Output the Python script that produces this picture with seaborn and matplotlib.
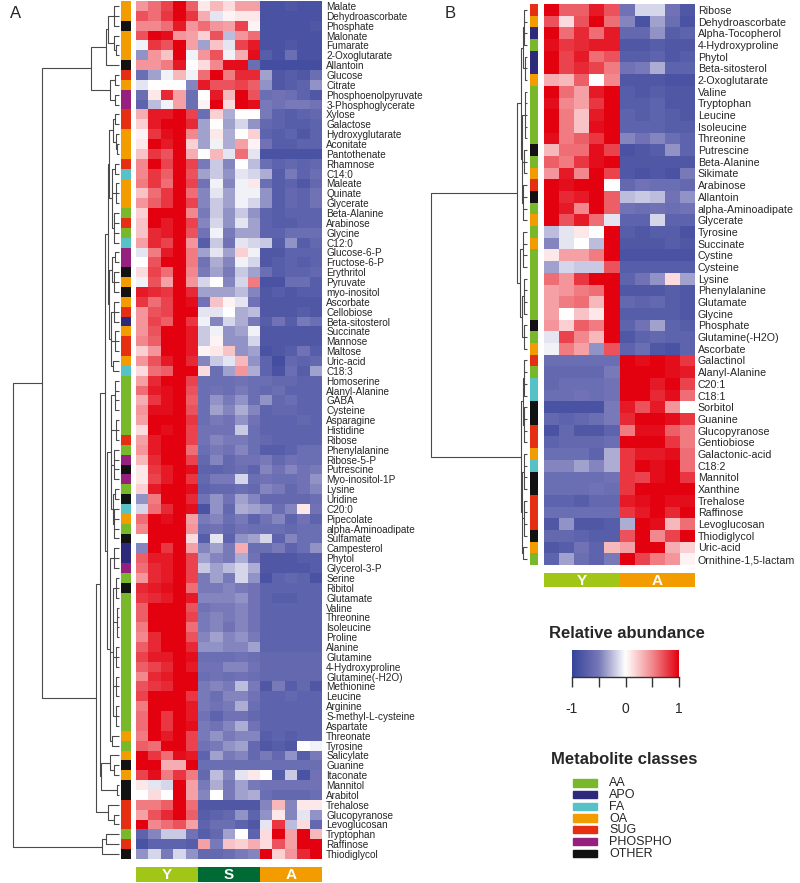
import numpy as np
import pandas as pd
import matplotlib
matplotlib.use("Agg")
import matplotlib.pyplot as plt
import seaborn as sns
from matplotlib.colors import LinearSegmentedColormap, ListedColormap
from matplotlib.patches import Rectangle

# ---- data -------------------------------------------------------------
names_a = ["Malate", "Dehydroascorbate", "Phosphate", "Malonate", "Fumarate", "2-Oxoglutarate",
           "Allantoin", "Glucose", "Citrate", "Phosphoenolpyruvate", "3-Phosphoglycerate", "Xylose",
           "Galactose", "Hydroxyglutarate", "Aconitate", "Pantothenate", "Rhamnose", "C14:0",
           "Maleate", "Quinate", "Glycerate", "Beta-Alanine", "Arabinose", "Glycine", "C12:0",
           "Glucose-6-P", "Fructose-6-P", "Erythritol", "Pyruvate", "myo-inositol", "Ascorbate",
           "Cellobiose", "Beta-sitosterol", "Succinate", "Mannose", "Maltose", "Uric-acid", "C18:3",
           "Homoserine", "Alanyl-Alanine", "GABA", "Cysteine", "Asparagine", "Histidine", "Ribose",
           "Phenylalanine", "Ribose-5-P", "Putrescine", "Myo-inositol-1P", "Lysine", "Uridine",
           "C20:0", "Pipecolate", "alpha-Aminoadipate", "Sulfamate", "Campesterol", "Phytol",
           "Glycerol-3-P", "Serine", "Ribitol", "Glutamate", "Valine", "Threonine", "Isoleucine",
           "Proline", "Alanine", "Glutamine", "4-Hydroxyproline", "Glutamine(-H2O)", "Methionine",
           "Leucine", "Arginine", "S-methyl-L-cysteine", "Aspartate", "Threonate", "Tyrosine",
           "Salicylate", "Guanine", "Itaconate", "Mannitol", "Arabitol", "Trehalose",
           "Glucopyranose", "Levoglucosan", "Tryptophan", "Raffinose", "Thiodiglycol"]

class_a = ["OA", "OA", "OTHER", "OA", "OA", "OA", "OTHER", "SUG", "OA", "PHOSPHO", "PHOSPHO",
           "SUG", "SUG", "OA", "OA", "OA", "SUG", "FA", "OA", "OA", "OA", "AA", "SUG", "AA", "FA",
           "PHOSPHO", "PHOSPHO", "OTHER", "OA", "OTHER", "OA", "SUG", "APO", "OA", "SUG", "SUG",
           "OA", "FA", "AA", "AA", "AA", "AA", "AA", "AA", "SUG", "AA", "PHOSPHO", "OTHER",
           "PHOSPHO", "AA", "OTHER", "FA", "OA", "AA", "OTHER", "APO", "APO", "PHOSPHO", "AA",
           "OTHER", "AA", "AA", "AA", "AA", "AA", "AA", "AA", "AA", "AA", "AA", "AA", "AA", "AA",
           "AA", "OA", "AA", "OA", "OTHER", "OA", "OTHER", "OTHER", "SUG", "SUG", "SUG", "AA",
           "SUG", "OTHER"]

# relative abundance in percent, columns Y1-Y5, S1-S5, A1-A5
vals_a = [
    [45, 60, 75, 100, 65, 10, 30, 15, 40, 40, -85, -85, -80, -85, -85],
    [70, 60, 80, 100, 80, 35, -10, 5, 10, 10, -85, -85, -85, -85, -85],
    [50, 50, 60, 90, 45, 60, 45, 40, 75, 5, -85, -85, -85, -85, -80],
    [70, 100, 95, 45, 40, 20, 70, -25, 45, 60, -85, -85, -85, -85, -85],
    [-5, 80, 70, 100, 40, -35, 25, -10, 75, 90, -85, -85, -80, -85, -85],
    [-40, 45, 25, 100, -5, 45, 70, -5, 35, 95, -75, -85, -60, -85, -85],
    [45, 45, 55, 90, 0, 15, 50, 95, 95, -60, -90, -90, -90, -90, -90],
    [-60, -35, -5, 30, -5, 60, 100, 55, 85, 85, -35, -80, -75, -80, -60],
    [-10, 0, 0, 0, -45, 90, 70, 70, 75, 65, -40, -80, -75, -70, -40],
    [-60, 10, 85, 40, -60, 0, 90, 30, 100, 70, -60, -55, -60, -70, -80],
    [-70, -25, -5, 40, -60, 5, 100, 15, 100, 95, -50, -55, -50, -50, -55],
    [35, 90, 90, 100, 75, -60, 20, -30, 0, 0, -50, -70, -75, -70, -65],
    [20, 90, 100, 100, 85, -35, 0, -35, -15, -40, -65, -70, -75, -75, -70],
    [5, 80, 95, 100, 50, -35, 10, -30, 0, 20, -70, -75, -70, -80, -70],
    [10, 100, 90, 100, 20, -35, -5, -30, 40, 5, -55, -75, -75, -70, -70],
    [25, 80, 70, 100, 35, 0, 30, -10, 60, -10, -85, -85, -85, -85, -85],
    [50, 100, 75, 100, 75, -50, -20, -45, 0, -25, -60, -70, -65, -70, -65],
    [50, 80, 65, 100, 70, -35, -20, -40, -10, -15, -30, -75, -50, -70, -60],
    [55, 80, 60, 100, 75, -55, -5, -45, -5, 10, -60, -75, -70, -80, -65],
    [25, 60, 80, 100, 60, -45, -10, -35, -5, -5, -40, -75, -65, -70, -55],
    [45, 65, 80, 100, 75, -45, -20, -35, -5, -15, -40, -75, -65, -70, -55],
    [20, 100, 100, 100, 50, -50, -20, -40, -20, -40, -70, -75, -70, -70, -70],
    [25, 100, 90, 100, 75, -45, -15, -40, -10, -35, -70, -75, -75, -70, -70],
    [25, 85, 90, 100, 70, -55, -5, -50, -35, -35, -70, -70, -60, -60, -60],
    [40, 85, 75, 100, 45, -75, -20, -55, -10, -15, -20, -75, -40, -75, -65],
    [-10, 55, 90, 100, 55, -35, -10, -35, 20, -5, -80, -80, -70, -70, -70],
    [0, 70, 100, 100, 55, -55, -30, -45, -5, -15, -80, -75, -70, -75, -70],
    [15, 75, 60, 100, 50, -50, -35, -50, -20, -35, -60, -75, -70, -70, -65],
    [-5, 70, 40, 100, 45, -15, 0, -45, -15, 55, -85, -85, -60, -60, -75],
    [90, 85, 80, 100, 85, -35, -35, -35, -25, -45, -80, -75, -80, -75, -75],
    [80, 60, 75, 100, 95, -55, 25, 5, -10, -55, -80, -80, -80, -80, -80],
    [45, 70, 75, 100, 100, -10, -10, 0, -30, -25, -80, -80, -80, -75, -80],
    [45, 75, 65, 100, 80, -5, -45, -15, -30, -50, -75, -55, -75, -50, -60],
    [45, 70, 100, 100, 90, -20, -5, -40, -35, -5, -80, -80, -80, -80, -80],
    [50, 65, 100, 100, 90, -20, 5, -40, -40, -15, -80, -80, -80, -80, -80],
    [20, 45, 100, 100, 90, 5, 10, 25, -40, -35, -85, -80, -75, -55, -75],
    [45, 70, 90, 100, 85, -45, -20, -10, 30, -40, -70, -90, -65, -70, -65],
    [15, 60, 65, 100, 100, 15, -60, -35, 45, -30, -70, -85, -60, -75, -35],
    [40, 85, 100, 100, 75, -60, -60, -60, -55, -60, -60, -65, -65, -70, -70],
    [60, 90, 95, 100, 70, -60, -55, -60, -50, -60, -65, -60, -70, -70, -70],
    [35, 80, 95, 100, 65, -60, -40, -50, -40, -60, -40, -65, -60, -70, -70],
    [45, 95, 95, 100, 70, -60, -35, -45, -30, -45, -70, -65, -65, -70, -70],
    [40, 100, 100, 100, 80, -60, -50, -55, -40, -55, -70, -70, -70, -65, -70],
    [15, 100, 95, 100, 75, -55, -55, -55, -20, -60, -70, -70, -70, -70, -70],
    [40, 90, 100, 100, 75, -55, -45, -50, -50, -60, -65, -70, -70, -70, -70],
    [45, 90, 100, 100, 60, -60, -50, -55, -45, -60, -75, -75, -70, -60, -60],
    [30, 85, 100, 100, 75, -65, -45, -65, -55, -55, -50, -65, -55, -60, -60],
    [10, 80, 90, 100, 95, -70, -70, -65, -60, -70, -45, -55, -45, -55, -50],
    [10, 75, 90, 100, 80, -65, -50, -50, -15, -60, -55, -60, -60, -55, -40],
    [20, 90, 100, 100, 95, -70, -65, -65, -60, -65, -45, -50, -65, -55, -45],
    [-40, 55, 100, 100, 85, -55, -40, -55, -35, -45, -65, -65, -65, -65, -60],
    [-15, 60, 85, 100, 95, -85, -40, -65, -30, -35, -40, -60, -45, 10, -55],
    [60, 100, 95, 100, 40, -50, -45, -60, -50, -70, -55, -45, -70, -55, -70],
    [50, 100, 100, 100, 45, -60, -55, -65, -55, -60, -60, -60, -65, -60, -60],
    [0, 100, 100, 100, 15, -75, -10, -70, -40, -35, -15, -70, -45, -60, -60],
    [-45, 100, 80, 100, 40, -45, -35, -50, 35, -60, -60, -50, -70, -60, -40],
    [65, 90, 90, 100, 75, -35, -45, -50, -30, -55, -80, -80, -80, -75, -75],
    [60, 85, 90, 100, 75, -20, -35, -25, -15, -30, -80, -80, -80, -80, -75],
    [45, 85, 90, 100, 75, -50, -35, -50, -15, -40, -85, -70, -65, -70, -85],
    [85, 90, 95, 100, 60, -50, -50, -45, -50, -55, -70, -70, -70, -70, -70],
    [80, 85, 90, 100, 90, -45, -45, -45, -40, -55, -70, -75, -75, -70, -70],
    [65, 100, 100, 100, 70, -55, -50, -50, -45, -55, -70, -70, -70, -70, -70],
    [65, 100, 100, 100, 75, -50, -45, -50, -45, -55, -70, -70, -70, -70, -70],
    [55, 100, 100, 100, 60, -50, -45, -55, -45, -55, -70, -70, -70, -70, -70],
    [50, 85, 100, 100, 70, -45, -35, -45, -40, -50, -70, -70, -70, -70, -70],
    [65, 85, 100, 100, 85, -40, -40, -45, -45, -35, -70, -70, -70, -70, -70],
    [75, 90, 90, 100, 95, -60, -60, -60, -55, -60, -65, -65, -65, -65, -65],
    [65, 75, 85, 100, 90, -55, -55, -45, -45, -55, -65, -65, -65, -65, -65],
    [50, 85, 90, 100, 100, -60, -55, -60, -55, -60, -65, -65, -65, -65, -65],
    [70, 80, 85, 100, 100, -50, -45, -50, -25, -50, -80, -50, -75, -65, -80],
    [75, 100, 100, 100, 80, -50, -60, -45, -45, -55, -70, -70, -65, -70, -70],
    [55, 100, 100, 100, 90, -50, -55, -50, -30, -60, -70, -70, -70, -70, -70],
    [60, 100, 80, 100, 90, -55, -70, -55, -55, -65, -70, -70, -70, -70, -70],
    [60, 100, 80, 100, 95, -50, -55, -45, -30, -55, -70, -70, -70, -70, -70],
    [55, 100, 90, 100, 75, -50, -40, -50, -45, -45, -75, -70, -75, -70, -70],
    [65, 60, 100, 100, 75, -55, -50, -40, -35, -65, -80, -75, -80, 0, -5],
    [100, 80, 60, 95, 90, -70, -35, -50, -45, -65, -50, -65, -40, -75, -50],
    [100, 100, 35, 35, 100, -60, -60, -60, -60, -60, -60, -60, -60, -60, -60],
    [75, 95, 55, 80, 55, -65, -25, -45, -10, 10, 0, -75, -20, -85, -55],
    [10, -10, -15, 100, 40, -50, -30, -50, -35, -50, -55, -55, -55, -55, -55],
    [0, 15, 0, 100, 40, -45, 0, -50, -35, -30, -60, -65, -65, -65, -60],
    [55, 55, 65, 100, 60, -80, -80, -80, -80, -80, -45, 30, -45, 10, 10],
    [40, 70, 85, 100, 65, -75, -70, -65, -40, -70, -40, 10, -45, -10, -40],
    [100, 50, 60, 70, 40, -70, -60, -60, -70, -80, -10, 80, -25, 15, -65],
    [-70, -45, -20, -20, -55, -75, -65, -35, 0, -70, 15, 100, 40, 100, 30],
    [-85, -70, -70, -70, -75, 40, -50, 25, 20, 35, 15, 70, 40, 100, 100],
    [-40, -15, -50, -15, -40, -65, -65, -60, -50, -45, 100, 20, 45, 85, 100],
]

names_b = ["Ribose", "Dehydroascorbate", "Alpha-Tocopherol", "4-Hydroxyproline", "Phytol",
           "Beta-sitosterol", "2-Oxoglutarate", "Valine", "Tryptophan", "Leucine", "Isoleucine",
           "Threonine", "Putrescine", "Beta-Alanine", "Sikimate", "Arabinose", "Allantoin",
           "alpha-Aminoadipate", "Glycerate", "Tyrosine", "Succinate", "Cystine", "Cysteine",
           "Lysine", "Phenylalanine", "Glutamate", "Glycine", "Phosphate", "Glutamine(-H2O)",
           "Ascorbate", "Galactinol", "Alanyl-Alanine", "C20:1", "C18:1", "Sorbitol", "Guanine",
           "Glucopyranose", "Gentiobiose", "Galactonic-acid", "C18:2", "Mannitol", "Xanthine",
           "Trehalose", "Raffinose", "Levoglucosan", "Thiodiglycol", "Uric-acid",
           "Ornithine-1,5-lactam"]

class_b = ["SUG", "OA", "APO", "AA", "APO", "APO", "OA", "AA", "AA", "AA", "AA", "AA", "OTHER",
           "AA", "OA", "SUG", "OTHER", "AA", "OA", "AA", "OA", "AA", "AA", "AA", "AA", "AA", "AA",
           "OTHER", "AA", "OA", "SUG", "AA", "FA", "FA", "OTHER", "OTHER", "SUG", "SUG", "OA",
           "FA", "OTHER", "OTHER", "SUG", "SUG", "SUG", "OTHER", "OA", "AA"]

# columns Y1-Y5, A1-A5
vals_b = [
    [100, 65, 65, 90, 70, -55, -15, -15, -55, -80],
    [70, 15, 70, 100, 60, -45, -85, -35, -60, -85],
    [100, 60, 85, 60, 90, -65, -65, -40, -75, -70],
    [95, 80, 85, 90, 90, -80, -80, -75, -80, -80],
    [100, 75, 90, 60, 70, -75, -75, -70, -80, -75],
    [100, 75, 85, 75, 55, -55, -50, -30, -70, -70],
    [35, 30, 65, 0, 50, -80, -80, -80, -85, -85],
    [100, 60, 40, 90, 100, -75, -80, -75, -80, -80],
    [95, 50, 40, 80, 100, -75, -75, -70, -80, -80],
    [100, 55, 25, 90, 100, -70, -75, -70, -75, -80],
    [100, 55, 25, 95, 100, -70, -70, -70, -75, -75],
    [95, 55, 65, 80, 100, -45, -55, -45, -60, -70],
    [30, 60, 60, 95, 75, -85, -80, -75, -40, -70],
    [65, 55, 80, 95, 100, -80, -80, -80, -80, -80],
    [45, 90, 50, 100, 75, -80, -85, -80, -85, -50],
    [100, 95, 100, 100, 0, -65, -55, -60, -60, -65],
    [100, 85, 90, 100, 65, -25, -20, -25, -55, -40],
    [100, 90, 50, 100, 65, -55, -60, -55, -60, -55],
    [100, 70, 90, 60, -10, -70, -70, -15, -70, -70],
    [-25, -10, 10, 0, 100, -75, -80, -75, -75, -85],
    [-45, -10, 0, -25, 100, -80, -80, -80, -75, -80],
    [10, 40, 40, 55, 100, -85, -85, -85, -85, -85],
    [-35, -15, -20, -20, 70, -75, -75, -75, -75, -75],
    [60, 45, 80, 100, 100, -70, -55, -40, 15, -35],
    [40, 45, 55, 60, 100, -80, -80, -80, -75, -80],
    [40, 55, 60, 30, 100, -65, -70, -65, -75, -80],
    [40, 0, 25, 10, 100, -75, -75, -75, -75, -80],
    [45, 20, 65, 55, 100, -70, -55, -35, -70, -75],
    [-10, 75, 50, 30, 100, -80, -70, -65, -70, -70],
    [-5, 55, 40, -40, 70, -70, -60, -80, -85, -70],
    [-60, -60, -60, -60, -60, 100, 95, 100, 95, 80],
    [-65, -65, -65, -65, -50, 100, 100, 100, 95, 90],
    [-65, -60, -60, -60, -55, 100, 100, 90, 100, 75],
    [-60, -60, -55, -60, -55, 100, 100, 85, 95, 60],
    [-85, -85, -85, -85, -50, 90, 70, 90, 45, 0],
    [-65, -70, -65, -60, -50, 85, 100, 100, 95, 80],
    [-85, -65, -80, -80, -70, 55, 95, 95, 65, 55],
    [-70, -65, -65, -65, -60, 100, 100, 100, 80, 55],
    [-60, -60, -60, -70, -30, 80, 90, 90, 95, 60],
    [-45, -45, -35, -45, -30, 80, 100, 95, 100, 60],
    [-60, -60, -60, -60, -55, 80, 75, 95, 100, 80],
    [-60, -60, -60, -55, -60, 80, 100, 100, 100, 100],
    [-70, -70, -75, -65, -65, 90, 95, 100, 95, 95],
    [-60, -60, -60, -60, -60, 80, 90, 100, 85, 100],
    [-80, -40, -80, -80, -75, -30, 100, 95, 30, 60],
    [-65, -65, -70, -75, -75, 70, 100, 50, 75, 100],
    [-80, -75, -55, -70, 30, 40, 100, 100, 35, 20],
    [-70, -35, -60, -70, -50, 100, 75, 55, 45, 5],
]

groups_a = ["Y"] * 5 + ["S"] * 5 + ["A"] * 5
groups_b = ["Y"] * 5 + ["A"] * 5

# row dendrograms: [merge height, child, child, ...]; ints are row indices
tree_a = [1.0,
          [0.726,
           [0.264,
            [0.123, [0.104, [0.05, 0, 1, 2], [0.045, 3, [0.03, 4, 5]]], 6],
            [0.085, [0.04, 7, 8], [0.035, 9, 10]]],
           [0.217,
            [0.179,
             [0.132,
              [0.104,
               [0.09, [0.06, [0.04, 11, 12], [0.03, 13, [0.02, 14, 15]]],
                [0.07, [0.04, 16, 17], [0.03, 18, 19, 20], [0.045, 21, 22, 23, 24]]],
               [0.095, [0.07, [0.04, 25, 26], [0.05, 27, 28, 29]],
                [0.075, [0.05, 30, 31, 32], [0.04, 33, 34, 35], [0.06, 36, 37]]]],
              [0.11,
               [0.08, [0.04, 38, 39, 40, 41], [0.03, 42, 43, 44], [0.05, 45, 46, 47, 48],
                [0.06, [0.04, 49, 50], [0.05, 51, 52, 53, 54]]],
               [0.085, [0.05, 55, 56, 57],
                [0.06, [0.03, 58, 59, 60], [0.02, 61, 62, 63, 64], [0.03, 65, 66, 67],
                 [0.025, 68, 69, 70], [0.03, 71, 72, 73]],
                [0.07, 74, 75]]]],
             [0.17, [0.085, 76, [0.05, 77, 78]], [0.02, 79, 80]]],
            [0.104, 81, [0.05, 82, 83]]]],
          [0.16, [0.12, 84, 85], 86]]

tree_b = [1.0,
          [0.107,
           [0.06, [0.045, [0.03, 0, 1, 2, 3], [0.025, 4, 5, 6]],
            [0.05, [0.02, 7, 8, 9, 10, 11], [0.035, 12, 13, 14], [0.04, 15, 16, 17, 18]]],
           [0.07, [0.04, 19, 20, 21, 22], [0.05, [0.03, 23, 24, 25, 26], [0.035, 27, 28, 29]]]],
          [0.06, [0.045, [0.03, 30, 31, 32, 33], [0.03, 34, 35, 36, 37]],
           [0.05, [0.03, 38, 39, 40, 41], [0.035, 42, 43, 44, 45], [0.04, 46, 47]]]]

class_order = ["AA", "APO", "FA", "OA", "SUG", "PHOSPHO", "OTHER"]
class_colors = ["#78b82a", "#2d2a7c", "#56c1c6", "#f39c00", "#e42f12", "#96207e", "#121212"]
group_order = ["Y", "S", "A"]
group_colors = ["#a2c617", "#006a35", "#f39c00"]

# ---- styling ----------------------------------------------------------
sns.set_theme(style="white")
plt.rcParams["font.family"] = ["Liberation Sans", "DejaVu Sans"]

cmap = LinearSegmentedColormap.from_list(
    "abund", [(0, "#37449a"), (0.25, "#7778b8"), (0.5, "#ffffff"), (0.75, "#f28a8f"), (1, "#e3000f")])

W, H = 800, 883
fig = plt.figure(figsize=(W / 100, H / 100), dpi=100)


def box(x0, y0, x1, y1):
    return [x0 / W, 1 - y1 / H, (x1 - x0) / W, (y1 - y0) / H]


def draw_tree(ax, node):
    if isinstance(node, int):
        return node + 0.5, 0.0
    h = node[0]
    kids = [draw_tree(ax, c) for c in node[1:]]
    ys = [k[0] for k in kids]
    for y, hc in kids:
        ax.plot([hc, h], [y, y], color="#4a4a4a", lw=0.8, solid_capstyle="butt", clip_on=False)
    ax.plot([h, h], [min(ys), max(ys)], color="#4a4a4a", lw=0.8, clip_on=False)
    return (min(ys) + max(ys)) / 2, h


def panel(names, classes, vals, groups, tree, xs, y0, y1, bar_y, fs, pad):
    dx0, dx1, sx0, sx1, hx0, hx1 = xs
    n = len(names)
    df = pd.DataFrame(np.array(vals) / 100.0, index=names)

    ax_d = fig.add_axes(box(dx0, y0, dx1, y1))
    draw_tree(ax_d, tree)
    ax_d.set_xlim(1.0, 0.0)
    ax_d.set_ylim(n, 0)
    ax_d.axis("off")

    ax_s = fig.add_axes(box(sx0, y0, sx1, y1))
    codes = np.array([class_order.index(c) for c in classes])[:, None]
    sns.heatmap(codes, ax=ax_s, cmap=ListedColormap(class_colors), vmin=-0.5, vmax=6.5,
                cbar=False, xticklabels=False, yticklabels=False)

    ax_h = fig.add_axes(box(hx0, y0, hx1, y1))
    sns.heatmap(df, ax=ax_h, cmap=cmap, vmin=-1, vmax=1, cbar=False,
                xticklabels=False, yticklabels=names)
    ax_h.yaxis.tick_right()
    ax_h.tick_params(axis="y", length=0, pad=pad, labelsize=fs, labelrotation=0)
    ax_h.set_ylabel("")

    ax_g = fig.add_axes(box(hx0, bar_y[0], hx1, bar_y[1]))
    gcodes = np.array([[group_order.index(g) for g in groups]])
    sns.heatmap(gcodes, ax=ax_g, cmap=ListedColormap(group_colors), vmin=-0.5, vmax=2.5,
                cbar=False, xticklabels=False, yticklabels=False)
    for g in group_order:
        idx = [i for i, v in enumerate(groups) if v == g]
        if idx:
            ax_g.text((idx[0] + idx[-1] + 1) / 2, 0.55, g, color="white", fontsize=11,
                      fontweight="bold", ha="center", va="center")


panel(names_a, class_a, vals_a, groups_a, tree_a, (13, 119, 121, 131, 136, 322),
      1, 859, (867, 882), 7.2, 3)
panel(names_b, class_b, vals_b, groups_b, tree_b, (431, 527, 530, 538, 544, 695),
      4, 565, (573, 587), 7.7, 2)

fig.text(10 / W, 1 - 14 / H, "A", fontsize=12, ha="left", va="center")
fig.text(445 / W, 1 - 14 / H, "B", fontsize=12, ha="left", va="center")

# ---- colour scale legend ----------------------------------------------
fig.text(627 / W, 1 - 634 / H, "Relative abundance", fontsize=12, fontweight="bold",
         ha="center", va="center")
ax_c = fig.add_axes(box(572, 650, 679, 677))
ax_c.imshow(np.linspace(-1, 1, 256)[None, :], cmap=cmap, aspect="auto", extent=(-1, 1, 0, 1))
ax_c.set_xticks([-1, -0.5, 0, 0.5, 1])
ax_c.set_xticklabels(["-1", "", "0", "", "1"])
ax_c.set_yticks([])
ax_c.tick_params(axis="x", bottom=True, length=7, width=1, color="#333333", labelsize=10, pad=11)
for side in ["top", "left", "right"]:
    ax_c.spines[side].set_visible(False)
ax_c.spines["bottom"].set_color("#333333")
ax_c.spines["bottom"].set_linewidth(1)

# ---- class legend -----------------------------------------------------
fig.text(624 / W, 1 - 760 / H, "Metabolite classes", fontsize=12, fontweight="bold",
         ha="center", va="center")
ax_l = fig.add_axes(box(560, 775, 700, 860))
ax_l.set_xlim(560, 700)
ax_l.set_ylim(860, 775)
ax_l.axis("off")
for i, (c, col) in enumerate(zip(class_order, class_colors)):
    yc = 783 + i * 11.7
    ax_l.add_patch(Rectangle((573, yc - 3.7), 24, 7.4, color=col))
    ax_l.text(609, yc + 0.5, c, fontsize=9, ha="left", va="center")

fig.savefig("out.png", dpi=100)
